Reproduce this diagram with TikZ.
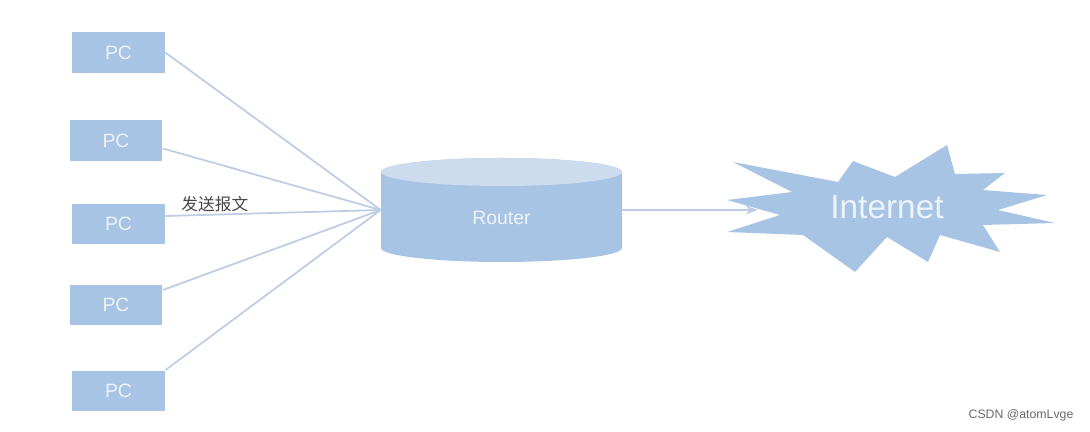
\documentclass[tikz,border=0pt]{standalone}
\usepackage{fontspec}
\setmainfont{Liberation Sans}
\newfontfamily\cjk{Noto Sans CJK SC}
\usepackage{tikz}
\usetikzlibrary{arrows.meta, positioning}
\definecolor{boxblue}{RGB}{168,196,228}
\definecolor{toplight}{RGB}{204,219,238}
\definecolor{linkblue}{RGB}{188,205,228}
\definecolor{boxtext}{RGB}{238,243,250}
\definecolor{labeldark}{RGB}{70,70,70}
\definecolor{watermark}{RGB}{105,105,105}
\tikzset{
  pcbox/.style={rectangle, fill=boxblue, minimum width=1.86cm, minimum height=0.82cm,
    inner sep=0pt, text=boxtext, font=\fontsize{11}{13}\selectfont},
  routerbox/.style={rectangle, minimum width=4.82cm, minimum height=2.08cm, inner sep=0pt},
  link/.style={line width=1pt, color=linkblue},
  arrow/.style={-{Stealth[length=7pt,width=5pt]}, line width=1pt, color=linkblue}
}

\begin{document}
\begin{tikzpicture}[x=0.02cm, y=-0.02cm]
  \useasboundingbox (0,0) rectangle (1090,432);

  % PCs
  \node[pcbox] (pc1) at (118.5,52.5) {PC};
  \node[pcbox] (pc2) at (116,140.5) {PC};
  \node[pcbox] (pc3) at (118.5,224) {PC};
  \node[pcbox] (pc4) at (116,305) {PC};
  \node[pcbox] (pc5) at (118.5,391) {PC};

  % Router cylinder
  \fill[boxblue] (381,172) -- (381,248) arc (180:0:120.5 and 14) -- (622,172) arc (0:-180:120.5 and 14) -- cycle;
  \fill[toplight] (501.5,172) ellipse (120.5 and 14);
  \node[routerbox] (router) at (501.5,210) {};
  \node[text=boxtext, font=\fontsize{11}{13}\selectfont] (routertxt) at ([yshift=-0.16cm]router.center) {Router};

  % Internet cloud
  \fill[boxblue] (733,162) -- (838,182) -- (853,161) -- (895,177) -- (947,145) -- (955,174)
    -- (1005,173) -- (983,190) -- (1047,195) -- (998,210) -- (1055,223) -- (983,225)
    -- (1000,252) -- (940,235) -- (928,262) -- (887,237) -- (855,272) -- (803,235)
    -- (727,232) -- (780,215) -- (727,200) -- (792,192) -- cycle;
  \node[text=boxtext, font=\fontsize{19}{22}\selectfont] (inet) at (887,207.5) {Internet};
  \coordinate (inetin) at (758,210);

  % Links
  \draw[link] (pc1.east) -- (router.west);
  \draw[link] ([yshift=-0.16cm]pc2.east) -- (router.west);
  \draw[link] ([yshift=0.16cm]pc3.east) -- (router.west)
    node[pos=0.23, above, inner sep=1pt, text=labeldark, font=\cjk\fontsize{9.5}{11}\selectfont] (msg) {发送报文};
  \draw[link] ([yshift=0.3cm]pc4.east) -- (router.west);
  \draw[link] (pc5.north east) -- (router.west);
  \draw[arrow] (router.east) -- (inetin);

  \node[text=watermark, font=\fontsize{7}{8}\selectfont] (mark) at (1021,415) {CSDN @atomLvge};
\end{tikzpicture}
\end{document}
